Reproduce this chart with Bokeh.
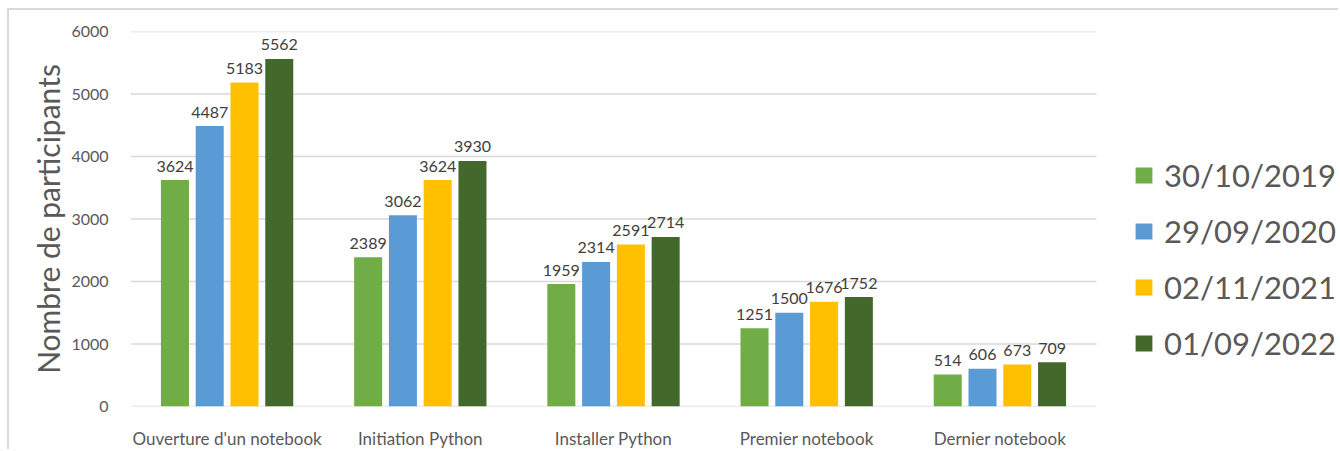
from bokeh.plotting import figure
from bokeh.models import ColumnDataSource, Range1d, Legend, LegendItem
from bokeh.core.properties import value
from bokeh.embed import file_html
from bokeh.resources import INLINE

categories = ["Ouverture d'un notebook", "Initiation Python", "Installer Python",
              "Premier notebook", "Dernier notebook"]
series_names = ["30/10/2019", "29/09/2020", "02/11/2021", "01/09/2022"]
v2019 = [3624, 2389, 1959, 1251, 514]
v2020 = [4487, 3062, 2314, 1500, 606]
v2021 = [5183, 3624, 2591, 1676, 673]
v2022 = [5562, 3930, 2714, 1752, 709]
y_ticks = [0, 1000, 2000, 3000, 4000, 5000, 6000]

colors = ["#70ad47", "#5b9bd5", "#ffc000", "#43682b"]
offsets = [-0.27, -0.09, 0.09, 0.27]
FONT = "Lato"

xi = list(range(len(categories)))
src = ColumnDataSource(dict(x=xi, s0=v2019, s1=v2020, s2=v2021, s3=v2022,
                            l0=[str(v) for v in v2019], l1=[str(v) for v in v2020],
                            l2=[str(v) for v in v2021], l3=[str(v) for v in v2022]))
for i in range(4):
    src.data["x%d" % i] = [x + offsets[i] for x in xi]

# frame spans the whole right side so the legend is not clipped;
# categories occupy [-0.5, 4.5] (193.2 px each)
p = figure(x_range=Range1d(-0.5, 5.763), y_range=Range1d(0, 6000),
           width=1331, height=441, output_backend="svg", toolbar_location=None,
           min_border_left=121, min_border_right=0, min_border_top=21, min_border_bottom=44)
p.styles = {"border-top": "2px solid #d9d9d9", "border-left": "2px solid #d9d9d9",
            "margin-top": "8px", "margin-left": "7px"}
p.outline_line_color = None
p.background_fill_color = "white"
p.border_fill_color = "white"

# horizontal gridlines limited to the category area
p.segment(x0=[-0.5] * len(y_ticks), x1=[len(categories) - 0.5] * len(y_ticks),
          y0=y_ticks, y1=y_ticks, line_color="#d9d9d9", line_width=1.3)

renderers = []
for i in range(4):
    r = p.vbar(x="x%d" % i, top="s%d" % i, width=0.145,
               source=src, fill_color=colors[i], line_color=None)
    renderers.append(r)
    p.text(x="x%d" % i, y="s%d" % i, text="l%d" % i,
           source=src, text_align="center", text_baseline="alphabetic", y_offset=-14,
           text_font=value(FONT), text_font_size="16px", text_color="#404040")

p.xgrid.grid_line_color = None
p.ygrid.grid_line_color = None
p.yaxis.ticker = y_ticks
p.yaxis.axis_line_color = None
p.yaxis.major_tick_line_color = None
p.yaxis.minor_tick_line_color = None
p.yaxis.major_label_text_font = FONT
p.yaxis.major_label_text_font_size = "16px"
p.yaxis.major_label_text_color = "#595959"
p.yaxis.major_label_standoff = 16
p.yaxis.axis_label = "Nombre de participants"
p.yaxis.axis_label_text_font = FONT
p.yaxis.axis_label_text_font_size = "30px"
p.yaxis.axis_label_text_font_style = "normal"
p.yaxis.axis_label_text_color = "#595959"
p.yaxis.axis_label_standoff = 2

p.xaxis.ticker = xi
p.xaxis.major_label_overrides = {i: c for i, c in enumerate(categories)}
p.xaxis.axis_line_color = None
p.xaxis.major_tick_line_color = None
p.xaxis.minor_tick_line_color = None
p.xaxis.major_label_text_font = FONT
p.xaxis.major_label_text_font_size = "17px"
p.xaxis.major_label_text_color = "#595959"
p.xaxis.major_label_standoff = 15

legend = Legend(items=[LegendItem(label=series_names[i], renderers=[renderers[i]]) for i in range(4)],
                location=(1003, 35))
legend.label_text_font = FONT
legend.label_text_font_size = "31px"
legend.label_text_color = "#595959"
legend.glyph_width = 21
legend.glyph_height = 20
legend.label_height = 56
legend.spacing = 0
legend.padding = 0
legend.margin = 0
legend.label_standoff = 10
legend.border_line_color = None
legend.background_fill_alpha = 0
p.add_layout(legend)

open("out.html", "w").write(file_html(p, INLINE))
